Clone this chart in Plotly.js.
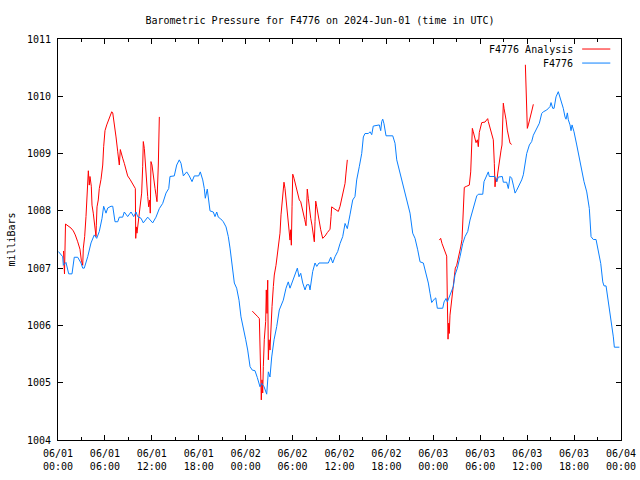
<!DOCTYPE html>
<html><head><meta charset="utf-8">
<script src="https://cdn.plot.ly/plotly-3.0.1.min.js"></script>
<style>html,body{margin:0;padding:0;background:#fff}#chart{width:640px;height:480px}</style>
</head><body><div id="chart"></div>
<script>
// Hours after 2024-06-01 00:00 UTC and pressure (mb) for the F4776 observations
const obsHours = [0.05,0.60,0.68,1.02,1.37,1.79,2.08,2.52,2.94,3.16,3.36,3.80,4.22,4.64,4.95,5.28,5.63,5.84,6.14,6.36,6.78,7.00,7.29,7.64,7.84,8.27,8.48,8.91,9.34,9.68,9.98,10.19,10.62,10.91,11.47,12.11,12.53,12.96,13.39,13.81,14.16,14.32,14.87,15.18,15.51,15.73,16.03,16.46,16.79,17.14,17.43,17.99,18.20,18.51,18.71,18.84,19.09,19.22,19.44,19.86,20.08,20.30,20.50,20.81,21.14,21.49,21.78,22.00,22.29,22.55,22.85,23.15,23.40,23.70,24.01,24.26,24.56,24.85,25.19,25.49,25.83,26.05,26.35,26.69,26.90,27.11,27.33,27.63,27.97,28.30,28.61,28.81,29.16,29.45,29.67,29.97,30.31,30.61,30.82,31.04,31.30,31.59,31.81,32.10,32.23,32.57,32.87,33.09,33.38,34.57,34.88,35.13,35.43,35.77,36.07,36.41,36.71,37.00,37.34,37.69,37.98,38.20,38.53,38.84,39.05,39.26,39.69,39.90,40.12,40.32,41.09,41.27,41.40,41.53,41.69,41.95,42.81,43.10,43.32,43.65,43.96,44.25,44.60,45.02,45.36,45.66,46.00,46.30,46.72,47.07,47.36,47.58,47.79,48.13,48.31,48.51,49.20,49.37,49.62,49.79,50.04,50.35,50.56,50.77,51.07,51.41,51.76,52.05,52.40,52.69,53.04,53.33,53.55,53.75,54.32,54.48,54.74,55.03,55.16,55.89,56.11,56.31,56.82,56.95,57.38,57.59,57.81,58.02,58.23,58.45,58.66,59.00,59.30,59.51,59.73,59.94,60.28,60.58,60.79,61.01,61.30,61.56,61.86,62.07,62.50,62.71,62.92,63.05,63.27,63.44,63.69,63.98,64.20,64.42,64.62,64.84,64.97,65.14,65.26,65.48,65.61,65.74,65.99,66.34,66.67,66.98,67.27,67.62,67.95,68.17,68.46,68.81,69.10,69.41,69.67,69.83,70.09,70.30,70.51,70.81,71.02,71.15,71.79];
const obsPressure = [1007.29,1007.20,1007.05,1007.10,1006.90,1006.90,1007.19,1007.19,1007.09,1007.00,1007.00,1007.20,1007.44,1007.58,1007.52,1007.64,1007.87,1008.08,1007.96,1008.05,1008.08,1008.08,1007.81,1007.81,1007.89,1007.89,1007.98,1007.90,1007.98,1007.90,1007.98,1007.90,1007.87,1007.79,1007.89,1007.79,1007.89,1008.04,1008.13,1008.31,1008.39,1008.60,1008.61,1008.80,1008.89,1008.83,1008.61,1008.68,1008.61,1008.51,1008.61,1008.61,1008.68,1008.54,1008.39,1008.22,1008.38,1008.19,1008.00,1007.98,1007.90,1007.98,1007.89,1007.86,1007.81,1007.72,1007.55,1007.35,1007.05,1006.74,1006.65,1006.44,1006.15,1005.92,1005.75,1005.57,1005.28,1005.22,1005.21,1005.09,1004.93,1004.99,1004.93,1004.80,1005.19,1005.10,1005.45,1005.75,1005.98,1006.27,1006.36,1006.44,1006.65,1006.76,1006.65,1006.76,1006.88,1007.00,1006.85,1006.91,1006.74,1006.62,1006.71,1006.71,1006.62,1006.94,1007.09,1007.03,1007.09,1007.09,1007.19,1007.09,1007.20,1007.29,1007.43,1007.55,1007.78,1007.69,1007.93,1008.19,1008.25,1008.54,1008.77,1009.00,1009.29,1009.35,1009.35,1009.38,1009.33,1009.48,1009.50,1009.40,1009.56,1009.60,1009.52,1009.31,1009.31,1009.18,1008.89,1008.71,1008.54,1008.36,1008.20,1007.96,1007.61,1007.52,1007.32,1007.11,1007.09,1006.91,1006.74,1006.56,1006.40,1006.46,1006.48,1006.30,1006.30,1006.41,1006.47,1006.41,1006.50,1006.59,1006.68,1006.88,1007.00,1007.20,1007.43,1007.55,1007.64,1007.84,1008.01,1008.16,1008.26,1008.29,1008.29,1008.51,1008.60,1008.68,1008.60,1008.60,1008.51,1008.59,1008.60,1008.50,1008.50,1008.39,1008.60,1008.57,1008.45,1008.31,1008.36,1008.45,1008.54,1008.63,1008.83,1009.00,1009.15,1009.21,1009.32,1009.38,1009.44,1009.53,1009.70,1009.73,1009.76,1009.79,1009.82,1009.89,1009.79,1009.79,1009.99,1010.08,1009.99,1009.90,1009.79,1009.64,1009.60,1009.71,1009.59,1009.50,1009.40,1009.50,1009.38,1009.15,1008.92,1008.74,1008.51,1008.33,1008.04,1007.55,1007.50,1007.50,1007.32,1007.08,1006.76,1006.69,1006.69,1006.50,1006.33,1006.04,1005.80,1005.62,1005.62];

// Hours and pressure for the F4776 Analysis (null = gap)
const anaHours = [0.70,0.83,0.96,1.24,1.66,1.96,2.21,2.52,2.81,2.98,3.16,3.24,3.41,3.58,3.71,3.84,3.88,4.00,4.09,4.26,4.35,4.51,4.69,4.77,4.86,4.90,4.99,5.15,5.28,5.50,5.72,5.84,6.01,6.23,6.43,6.65,6.87,7.00,7.20,7.42,7.64,7.76,7.84,7.97,8.15,8.27,8.48,8.70,8.91,9.21,9.46,9.76,9.89,9.94,10.01,10.10,10.32,10.49,10.70,10.83,10.91,11.04,11.17,11.34,11.47,11.60,11.73,11.80,11.89,12.02,12.19,12.41,12.53,12.66,12.83,12.96,
  null,
  24.85,25.19,25.49,25.75,25.83,25.92,26.00,26.09,26.18,26.26,26.38,26.56,26.64,26.73,26.82,26.90,26.99,27.11,27.24,27.37,27.54,27.66,27.88,28.05,28.23,28.39,28.52,28.69,28.81,28.90,29.03,29.16,29.33,29.45,29.58,29.67,29.76,29.84,29.93,30.02,30.18,30.40,30.61,30.86,31.04,31.21,31.37,31.55,31.72,31.81,31.88,32.01,32.14,32.32,32.48,32.65,32.78,32.87,32.96,33.09,33.25,33.42,33.60,33.85,34.15,34.44,34.79,34.92,35.00,35.30,35.64,35.85,36.07,36.28,36.49,36.71,36.83,37.00,
  null,
  48.77,48.94,49.11,49.28,49.49,49.71,49.79,49.88,49.97,50.04,50.13,50.30,50.48,50.65,50.81,50.99,51.16,51.32,51.50,51.67,51.84,51.96,52.27,52.60,52.78,52.91,52.99,53.11,53.29,53.46,53.63,53.75,53.88,54.19,54.61,54.83,54.95,55.03,55.25,55.47,55.67,55.80,55.89,55.98,56.11,56.24,56.36,56.53,56.66,56.78,56.87,56.95,57.04,57.17,57.30,57.46,57.64,57.81,58.02,
  null,
  59.77,59.85,59.94,60.02,60.15,60.28,60.46,60.62,60.79];
const anaPressure = [1007.30,1006.90,1007.77,1007.74,1007.70,1007.65,1007.58,1007.46,1007.33,1007.14,1007.05,1007.35,1007.55,1007.90,1008.25,1008.42,1008.70,1008.45,1008.60,1008.43,1008.10,1007.96,1007.78,1007.61,1007.55,1007.75,1008.07,1008.19,1008.39,1008.55,1008.80,1009.12,1009.40,1009.50,1009.57,1009.66,1009.73,1009.71,1009.53,1009.29,1009.03,1008.90,1008.80,1009.07,1009.00,1008.92,1008.83,1008.71,1008.61,1008.55,1008.49,1008.42,1008.39,1007.52,1007.72,1007.61,1007.84,1008.04,1008.31,1008.77,1009.21,1009.09,1008.77,1008.42,1008.25,1008.07,1008.19,1007.96,1008.86,1008.80,1008.57,1008.39,1008.28,1008.16,1008.80,1009.64,
  null,
  1006.25,1006.21,1006.16,1006.12,1005.75,1005.05,1004.70,1005.05,1004.82,1005.28,1005.75,1006.07,1006.62,1006.21,1006.79,1005.40,1005.75,1005.57,1006.07,1006.33,1006.68,1006.88,1007.05,1007.23,1007.40,1007.61,1007.93,1008.16,1008.36,1008.50,1008.39,1008.22,1008.01,1007.81,1007.67,1007.49,1007.67,1007.40,1008.07,1008.64,1008.57,1008.45,1008.31,1008.19,1008.16,1008.07,1007.97,1007.85,1007.74,1008.01,1008.38,1008.22,1008.01,1007.87,1007.75,1007.52,1007.46,1007.81,1008.17,1008.07,1007.93,1007.81,1007.67,1007.52,1007.56,1007.62,1007.68,1007.90,1008.07,1008.04,1008.01,1007.99,1008.08,1008.20,1008.33,1008.48,1008.66,1008.89,
  null,
  1007.49,1007.52,1007.43,1007.37,1007.29,1007.21,1006.44,1005.76,1006.04,1005.86,1006.18,1006.39,1006.56,1006.76,1007.00,1007.05,1007.14,1007.25,1007.37,1007.50,1007.93,1008.41,1008.43,1008.45,1008.68,1009.18,1009.44,1009.38,1009.27,1009.19,1009.24,1009.12,1009.37,1009.54,1009.55,1009.59,1009.61,1009.56,1009.44,1009.32,1009.24,1008.83,1008.42,1008.57,1008.51,1008.66,1008.80,1008.95,1009.06,1009.15,1009.56,1009.88,1009.79,1009.70,1009.59,1009.41,1009.29,1009.18,1009.16,
  null,
  1010.55,1010.25,1009.70,1009.44,1009.50,1009.59,1009.67,1009.76,1009.86];

const seriesNames = ['F4776 Analysis', 'F4776'];
const seriesColors = ['#ff0000', '#0a80ff'];
const startMs = Date.UTC(2024, 5, 1);
const endMs = Date.UTC(2024, 5, 4);
const toMs = h => (h === null ? null : startMs + h * 3600000);

const mono = 'DejaVu Sans Mono, monospace';
const traces = [
  {x: anaHours.map(toMs), y: anaPressure, type: 'scatter', mode: 'lines', connectgaps: false,
   name: seriesNames[0], line: {color: seriesColors[0], width: 1}},
  {x: obsHours.map(toMs), y: obsPressure, type: 'scatter', mode: 'lines',
   name: seriesNames[1], line: {color: seriesColors[1], width: 1}}
];

// legend drawn gnuplot-style: text, then line sample to its right
const legY = [0.975, 0.940];
const annotations = seriesNames.map((n, i) => ({
  xref: 'paper', yref: 'paper', x: 0.918, y: legY[i], xanchor: 'right', yanchor: 'middle',
  text: n, showarrow: false, font: {family: mono, size: 10, color: '#000'}
}));
const shapes = seriesNames.map((n, i) => ({
  type: 'line', xref: 'paper', yref: 'paper', x0: 0.931, x1: 0.981, y0: legY[i], y1: legY[i],
  line: {color: seriesColors[i], width: 1}
}));

const layout = {
  width: 640, height: 480,
  margin: {l: 58, r: 19, t: 39, b: 40},
  paper_bgcolor: '#fff', plot_bgcolor: '#fff',
  showlegend: false,
  title: {text: 'Barometric Pressure for F4776 on 2024-Jun-01 (time in UTC)',
          font: {family: mono, size: 10, color: '#000'}, x: 0.5, xanchor: 'center', y: 0.958, yanchor: 'middle'},
  font: {family: mono, size: 10, color: '#000'},
  xaxis: {type: 'date', range: [startMs, endMs], tick0: startMs, dtick: 6 * 3600000,
          tickformat: '%m/%d<br>%H:%M', ticks: 'inside', ticklen: 5, tickcolor: '#000',
          showline: true, linecolor: '#000', linewidth: 1, mirror: 'ticks', showgrid: false, zeroline: false,
          minor: {dtick: 3 * 3600000, ticks: 'inside', ticklen: 3, tickcolor: '#000', showgrid: false},
          tickfont: {family: mono, size: 10, color: '#000'}, ticklabelstandoff: 4},
  yaxis: {range: [1004, 1011], dtick: 1, tick0: 1004, ticks: 'inside', ticklen: 5, tickcolor: '#000',
          showline: true, linecolor: '#000', linewidth: 1, mirror: 'ticks', showgrid: false, zeroline: false,
          tickfont: {family: mono, size: 10, color: '#000'}, ticklabelstandoff: 4,
          title: {text: 'milliBars', font: {family: mono, size: 10, color: '#000'}, standoff: 9}},
  annotations: annotations,
  shapes: shapes
};

Plotly.newPlot('chart', traces, layout, {displayModeBar: false, staticPlot: true});
</script>
</body></html>
